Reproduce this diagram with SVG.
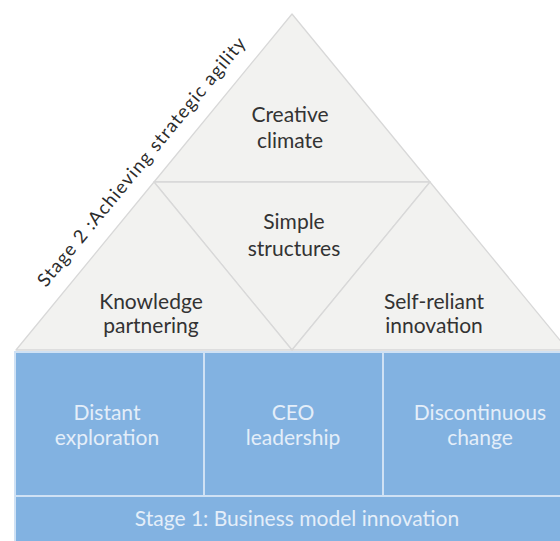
<svg xmlns="http://www.w3.org/2000/svg" width="560" height="541" viewBox="0 0 560 541">
  <style>
    .tri { fill: #f2f2f0; stroke: #d8d8d8; stroke-width: 1.3; stroke-linejoin: round; }
    .cell { fill: #82b2e1; stroke: #cfe1f4; stroke-width: 2; }
    .dark { font-family: Lato, "Open Sans", "Liberation Sans", sans-serif; font-size: 21px; fill: #333333; text-anchor: middle; }
    .light { font-family: Lato, "Open Sans", "Liberation Sans", sans-serif; font-size: 21px; fill: #e4eef9; text-anchor: middle; }
    .stage2 { font-family: Lato, "Open Sans", "Liberation Sans", sans-serif; font-size: 18.5px; fill: #2b2b2b; }
  </style>
  <rect width="560" height="541" fill="#ffffff"/>

  <!-- Stage 2 pyramid -->
  <g id="creative-climate">
    <polygon class="tri" points="292,14 154,182 430,182"/>
    <text class="dark" x="290" y="122">Creative</text>
    <text class="dark" x="290" y="148">climate</text>
  </g>
  <g id="simple-structures">
    <polygon class="tri" points="154,182 430,182 292,350"/>
    <text class="dark" x="294" y="229">Simple</text>
    <text class="dark" x="294" y="256">structures</text>
  </g>
  <g id="knowledge-partnering">
    <polygon class="tri" points="154,182 16,350 292,350"/>
    <text class="dark" x="151" y="309">Knowledge</text>
    <text class="dark" x="151" y="333">partnering</text>
  </g>
  <g id="self-reliant-innovation">
    <polygon class="tri" points="430,182 292,350 568,350"/>
    <text class="dark" x="434" y="309">Self-reliant</text>
    <text class="dark" x="434" y="333">innovation</text>
  </g>

  <!-- label running along the left edge of the pyramid -->
  <g id="stage-2-label">
    <text class="stage2" transform="translate(46,288) rotate(-50.6)" textLength="316" lengthAdjust="spacing">Stage 2 :Achieving strategic agility</text>
  </g>

  <!-- Stage 1 base -->
  <g id="distant-exploration">
    <rect class="cell" x="15" y="352" width="189" height="144"/>
    <text class="light" x="107" y="420">Distant</text>
    <text class="light" x="107" y="445">exploration</text>
  </g>
  <g id="ceo-leadership">
    <rect class="cell" x="204" y="352" width="179" height="144"/>
    <text class="light" x="293" y="420">CEO</text>
    <text class="light" x="293" y="445">leadership</text>
  </g>
  <g id="discontinuous-change">
    <rect class="cell" x="383" y="352" width="195" height="144"/>
    <text class="light" x="480" y="420">Discontinuous</text>
    <text class="light" x="480" y="445">change</text>
  </g>
  <g id="business-model-innovation">
    <rect class="cell" x="15" y="496" width="563" height="60"/>
    <text class="light" x="297" y="526">Stage 1: Business model innovation</text>
  </g>
</svg>
